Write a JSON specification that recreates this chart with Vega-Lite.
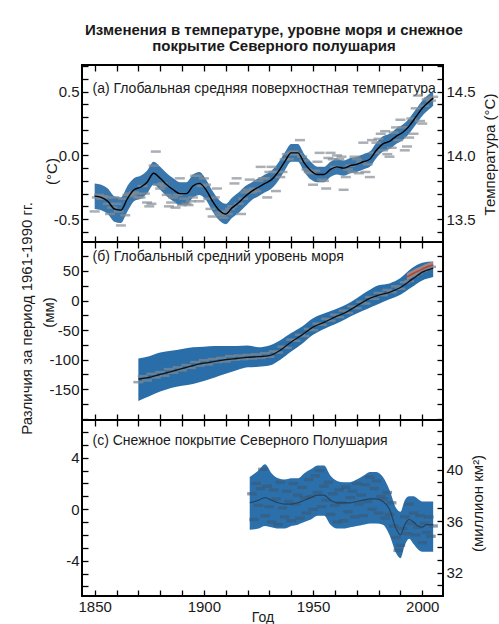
{
  "$schema": "https://vega.github.io/schema/vega-lite/v6.json",
  "background": "white",
  "padding": {"left": 17, "top": 22, "right": 2, "bottom": 2},
  "title": {
    "text": ["Изменения в температуре, уровне моря и снежное", "покрытие Северного полушария"],
    "fontSize": 15, "fontWeight": "bold", "lineHeight": 16.5, "anchor": "middle", "offset": 4, "dx": 16, "color": "#1a1a1a"
  },
  "datasets": {
    "temp_smooth": [
      {"year":1850,"m":-0.32,"lo":-0.42,"hi":-0.22},{"year":1853,"m":-0.33,"lo":-0.43,"hi":-0.23},{"year":1856,"m":-0.36,"lo":-0.46,"hi":-0.26},{"year":1859,"m":-0.42,"lo":-0.52,"hi":-0.32},{"year":1862,"m":-0.43,"lo":-0.53,"hi":-0.33},{"year":1865,"m":-0.34,"lo":-0.44,"hi":-0.24},{"year":1868,"m":-0.27,"lo":-0.36,"hi":-0.18},{"year":1871,"m":-0.25,"lo":-0.34,"hi":-0.16},{"year":1874,"m":-0.21,"lo":-0.30,"hi":-0.12},{"year":1877,"m":-0.14,"lo":-0.23,"hi":-0.05},{"year":1880,"m":-0.18,"lo":-0.27,"hi":-0.09},{"year":1883,"m":-0.23,"lo":-0.32,"hi":-0.14},{"year":1886,"m":-0.27,"lo":-0.36,"hi":-0.18},{"year":1889,"m":-0.30,"lo":-0.39,"hi":-0.21},{"year":1892,"m":-0.30,"lo":-0.39,"hi":-0.21},{"year":1895,"m":-0.24,"lo":-0.33,"hi":-0.15},{"year":1898,"m":-0.22,"lo":-0.31,"hi":-0.13},{"year":1901,"m":-0.27,"lo":-0.35,"hi":-0.19},{"year":1904,"m":-0.36,"lo":-0.44,"hi":-0.28},{"year":1907,"m":-0.43,"lo":-0.51,"hi":-0.35},{"year":1910,"m":-0.46,"lo":-0.54,"hi":-0.38},{"year":1913,"m":-0.41,"lo":-0.49,"hi":-0.33},{"year":1916,"m":-0.37,"lo":-0.45,"hi":-0.29},{"year":1919,"m":-0.32,"lo":-0.40,"hi":-0.24},{"year":1922,"m":-0.28,"lo":-0.35,"hi":-0.21},{"year":1925,"m":-0.25,"lo":-0.32,"hi":-0.18},{"year":1928,"m":-0.22,"lo":-0.29,"hi":-0.15},{"year":1931,"m":-0.19,"lo":-0.26,"hi":-0.12},{"year":1934,"m":-0.13,"lo":-0.20,"hi":-0.06},{"year":1937,"m":-0.05,"lo":-0.12,"hi":0.02},{"year":1940,"m":0.02,"lo":-0.05,"hi":0.09},{"year":1943,"m":0.02,"lo":-0.05,"hi":0.09},{"year":1946,"m":-0.06,"lo":-0.13,"hi":0.01},{"year":1949,"m":-0.12,"lo":-0.19,"hi":-0.05},{"year":1952,"m":-0.15,"lo":-0.21,"hi":-0.09},{"year":1955,"m":-0.15,"lo":-0.21,"hi":-0.09},{"year":1958,"m":-0.11,"lo":-0.17,"hi":-0.05},{"year":1961,"m":-0.09,"lo":-0.15,"hi":-0.03},{"year":1964,"m":-0.10,"lo":-0.16,"hi":-0.04},{"year":1967,"m":-0.08,"lo":-0.14,"hi":-0.02},{"year":1970,"m":-0.07,"lo":-0.13,"hi":-0.01},{"year":1973,"m":-0.05,"lo":-0.11,"hi":0.01},{"year":1976,"m":-0.03,"lo":-0.09,"hi":0.03},{"year":1979,"m":0.04,"lo":-0.02,"hi":0.10},{"year":1982,"m":0.09,"lo":0.03,"hi":0.15},{"year":1985,"m":0.11,"lo":0.05,"hi":0.17},{"year":1988,"m":0.15,"lo":0.09,"hi":0.21},{"year":1991,"m":0.18,"lo":0.12,"hi":0.24},{"year":1994,"m":0.23,"lo":0.17,"hi":0.29},{"year":1997,"m":0.30,"lo":0.24,"hi":0.36},{"year":2000,"m":0.37,"lo":0.31,"hi":0.43},{"year":2003,"m":0.42,"lo":0.36,"hi":0.48},{"year":2005,"m":0.45,"lo":0.39,"hi":0.51}
    ],
    "temp_annual": [
      {"year":1850,"t":-0.44},{"year":1851,"t":-0.33},{"year":1852,"t":-0.31},{"year":1853,"t":-0.34},{"year":1854,"t":-0.32},{"year":1855,"t":-0.33},{"year":1856,"t":-0.38},{"year":1857,"t":-0.46},{"year":1858,"t":-0.41},{"year":1859,"t":-0.33},
      {"year":1860,"t":-0.38},{"year":1861,"t":-0.44},{"year":1862,"t":-0.55},{"year":1863,"t":-0.34},{"year":1864,"t":-0.47},{"year":1865,"t":-0.31},{"year":1866,"t":-0.30},{"year":1867,"t":-0.32},{"year":1868,"t":-0.29},{"year":1869,"t":-0.30},
      {"year":1870,"t":-0.33},{"year":1871,"t":-0.33},{"year":1872,"t":-0.24},{"year":1873,"t":-0.30},{"year":1874,"t":-0.37},{"year":1875,"t":-0.40},{"year":1876,"t":-0.38},{"year":1877,"t":-0.08},{"year":1878,"t":0.03},{"year":1879,"t":-0.23},
      {"year":1880,"t":-0.26},{"year":1881,"t":-0.22},{"year":1882,"t":-0.24},{"year":1883,"t":-0.31},{"year":1884,"t":-0.40},{"year":1885,"t":-0.37},{"year":1886,"t":-0.33},{"year":1887,"t":-0.41},{"year":1888,"t":-0.31},{"year":1889,"t":-0.18},
      {"year":1890,"t":-0.39},{"year":1891,"t":-0.34},{"year":1892,"t":-0.38},{"year":1893,"t":-0.39},{"year":1894,"t":-0.36},{"year":1895,"t":-0.33},{"year":1896,"t":-0.16},{"year":1897,"t":-0.16},{"year":1898,"t":-0.36},{"year":1899,"t":-0.24},
      {"year":1900,"t":-0.18},{"year":1901,"t":-0.23},{"year":1902,"t":-0.34},{"year":1903,"t":-0.42},{"year":1904,"t":-0.48},{"year":1905,"t":-0.33},{"year":1906,"t":-0.26},{"year":1907,"t":-0.45},{"year":1908,"t":-0.47},{"year":1909,"t":-0.49},
      {"year":1910,"t":-0.44},{"year":1911,"t":-0.46},{"year":1912,"t":-0.42},{"year":1913,"t":-0.40},{"year":1914,"t":-0.22},{"year":1915,"t":-0.18},{"year":1916,"t":-0.38},{"year":1917,"t":-0.46},{"year":1918,"t":-0.34},{"year":1919,"t":-0.29},
      {"year":1920,"t":-0.27},{"year":1921,"t":-0.19},{"year":1922,"t":-0.29},{"year":1923,"t":-0.26},{"year":1924,"t":-0.28},{"year":1925,"t":-0.20},{"year":1926,"t":-0.09},{"year":1927,"t":-0.18},{"year":1928,"t":-0.18},{"year":1929,"t":-0.33},
      {"year":1930,"t":-0.13},{"year":1931,"t":-0.09},{"year":1932,"t":-0.13},{"year":1933,"t":-0.28},{"year":1934,"t":-0.13},{"year":1935,"t":-0.17},{"year":1936,"t":-0.13},{"year":1937,"t":-0.03},{"year":1938,"t":0.01},{"year":1939,"t":-0.03},
      {"year":1940,"t":0.02},{"year":1941,"t":0.03},{"year":1942,"t":0.01},{"year":1943,"t":0.01},{"year":1944,"t":0.12},{"year":1945,"t":-0.01},{"year":1946,"t":-0.04},{"year":1947,"t":-0.11},{"year":1948,"t":-0.13},{"year":1949,"t":-0.14},
      {"year":1950,"t":-0.23},{"year":1951,"t":-0.12},{"year":1952,"t":-0.05},{"year":1953,"t":0.02},{"year":1954,"t":-0.19},{"year":1955,"t":-0.20},{"year":1956,"t":-0.26},{"year":1957,"t":-0.02},{"year":1958,"t":0.02},{"year":1959,"t":-0.03},
      {"year":1960,"t":-0.09},{"year":1961,"t":0.00},{"year":1962,"t":-0.03},{"year":1963,"t":-0.01},{"year":1964,"t":-0.27},{"year":1965,"t":-0.17},{"year":1966,"t":-0.11},{"year":1967,"t":-0.08},{"year":1968,"t":-0.13},{"year":1969,"t":-0.01},
      {"year":1970,"t":-0.03},{"year":1971,"t":-0.14},{"year":1972,"t":-0.05},{"year":1973,"t":0.10},{"year":1974,"t":-0.13},{"year":1975,"t":-0.07},{"year":1976,"t":-0.17},{"year":1977,"t":0.12},{"year":1978,"t":0.02},{"year":1979,"t":0.10},
      {"year":1980,"t":0.13},{"year":1981,"t":0.17},{"year":1982,"t":0.04},{"year":1983,"t":0.19},{"year":1984,"t":0.01},{"year":1985,"t":-0.01},{"year":1986,"t":0.06},{"year":1987,"t":0.18},{"year":1988,"t":0.22},{"year":1989,"t":0.12},
      {"year":1990,"t":0.28},{"year":1991,"t":0.22},{"year":1992,"t":0.04},{"year":1993,"t":0.07},{"year":1994,"t":0.14},{"year":1995,"t":0.29},{"year":1996,"t":0.17},{"year":1997,"t":0.37},{"year":1998,"t":0.47},{"year":1999,"t":0.27},
      {"year":2000,"t":0.25},{"year":2001,"t":0.39},{"year":2002,"t":0.44},{"year":2003,"t":0.45},{"year":2004,"t":0.43},{"year":2005,"t":0.46}
    ],
    "sea_smooth": [
      {"year":1870,"m":-133,"lo":-170,"hi":-98},{"year":1875,"m":-130,"lo":-162,"hi":-94},{"year":1880,"m":-125,"lo":-154,"hi":-88},{"year":1885,"m":-120,"lo":-148,"hi":-85},{"year":1890,"m":-115,"lo":-144,"hi":-82},{"year":1895,"m":-110,"lo":-141,"hi":-79},{"year":1900,"m":-106,"lo":-136,"hi":-78},{"year":1905,"m":-103,"lo":-130,"hi":-77},{"year":1910,"m":-100,"lo":-124,"hi":-77},{"year":1915,"m":-98,"lo":-118,"hi":-77},{"year":1920,"m":-96,"lo":-113,"hi":-76},{"year":1925,"m":-95,"lo":-112,"hi":-79},{"year":1930,"m":-93,"lo":-110,"hi":-76},{"year":1935,"m":-84,"lo":-100,"hi":-67},{"year":1940,"m":-70,"lo":-86,"hi":-55},{"year":1945,"m":-58,"lo":-73,"hi":-44},{"year":1950,"m":-45,"lo":-58,"hi":-30},{"year":1955,"m":-37,"lo":-48,"hi":-22},{"year":1960,"m":-28,"lo":-40,"hi":-15},{"year":1965,"m":-20,"lo":-31,"hi":-7},{"year":1970,"m":-9,"lo":-22,"hi":4},{"year":1975,"m":2,"lo":-14,"hi":16},{"year":1980,"m":9,"lo":-6,"hi":26},{"year":1985,"m":14,"lo":2,"hi":29},{"year":1990,"m":22,"lo":10,"hi":38},{"year":1995,"m":35,"lo":22,"hi":54},{"year":2000,"m":48,"lo":34,"hi":64},{"year":2005,"m":55,"lo":40,"hi":66}
    ],
    "sea_points": [
      {"year":1870,"v":-138},{"year":1872,"v":-128},{"year":1874,"v":-135},{"year":1876,"v":-124},{"year":1878,"v":-130},{"year":1880,"v":-121},{"year":1882,"v":-127},{"year":1884,"v":-116},{"year":1886,"v":-122},{"year":1888,"v":-113},{"year":1890,"v":-118},{"year":1892,"v":-109},{"year":1894,"v":-114},{"year":1896,"v":-104},{"year":1898,"v":-110},{"year":1900,"v":-101},{"year":1902,"v":-108},{"year":1904,"v":-99},{"year":1906,"v":-104},{"year":1908,"v":-97},{"year":1910,"v":-103},{"year":1912,"v":-94},{"year":1914,"v":-100},{"year":1916,"v":-93},{"year":1918,"v":-99},{"year":1920,"v":-92},{"year":1922,"v":-98},{"year":1924,"v":-91},{"year":1926,"v":-97},{"year":1928,"v":-89},{"year":1930,"v":-95},{"year":1932,"v":-86},{"year":1934,"v":-88},{"year":1936,"v":-78},{"year":1938,"v":-80},{"year":1940,"v":-66},{"year":1942,"v":-68},{"year":1944,"v":-58},{"year":1946,"v":-60},{"year":1948,"v":-48},{"year":1950,"v":-50},{"year":1952,"v":-39},{"year":1954,"v":-41},{"year":1956,"v":-31},{"year":1958,"v":-34},{"year":1960,"v":-24},{"year":1962,"v":-28},{"year":1964,"v":-17},{"year":1966,"v":-21},{"year":1968,"v":-10},{"year":1970,"v":-13},{"year":1972,"v":-2},{"year":1974,"v":-5},{"year":1976,"v":6},{"year":1978,"v":3},{"year":1980,"v":13},{"year":1982,"v":9},{"year":1984,"v":18},{"year":1986,"v":14},{"year":1988,"v":24},{"year":1990,"v":20},{"year":1992,"v":31},{"year":1994,"v":33},{"year":1996,"v":42},{"year":1998,"v":46},{"year":2000,"v":50},{"year":2002,"v":54},{"year":2004,"v":57}
    ],
    "sea_sat": [
      {"year":1993,"m":40,"lo":34,"hi":46},{"year":1995,"m":44,"lo":38,"hi":50},{"year":1997,"m":48,"lo":42,"hi":54},{"year":1999,"m":51,"lo":45,"hi":57},{"year":2001,"m":55,"lo":49,"hi":61},{"year":2003,"m":58,"lo":52,"hi":64},{"year":2005,"m":60,"lo":54,"hi":66}
    ],
    "snow_smooth": [
      {"year":1921,"m":0.5,"lo":-1.6,"hi":2.5},{"year":1925,"m":0.7,"lo":-1.5,"hi":3.0},{"year":1928,"m":0.9,"lo":-1.3,"hi":3.5},{"year":1931,"m":0.7,"lo":-1.4,"hi":2.8},{"year":1934,"m":0.5,"lo":-1.5,"hi":2.4},{"year":1937,"m":0.4,"lo":-1.5,"hi":2.3},{"year":1940,"m":0.4,"lo":-1.3,"hi":2.4},{"year":1943,"m":0.5,"lo":-1.2,"hi":2.4},{"year":1946,"m":0.7,"lo":-1.0,"hi":2.8},{"year":1949,"m":0.9,"lo":-0.8,"hi":3.1},{"year":1952,"m":1.1,"lo":-0.5,"hi":3.4},{"year":1955,"m":1.1,"lo":-0.5,"hi":3.4},{"year":1958,"m":0.7,"lo":-1.2,"hi":2.6},{"year":1961,"m":0.5,"lo":-1.5,"hi":2.2},{"year":1964,"m":0.5,"lo":-1.5,"hi":2.1},{"year":1967,"m":0.5,"lo":-1.4,"hi":2.1},{"year":1970,"m":0.6,"lo":-1.3,"hi":2.3},{"year":1973,"m":0.7,"lo":-1.2,"hi":2.6},{"year":1976,"m":0.8,"lo":-1.1,"hi":2.9},{"year":1979,"m":0.8,"lo":-1.1,"hi":2.9},{"year":1982,"m":0.6,"lo":-1.2,"hi":2.5},{"year":1985,"m":0.0,"lo":-2.0,"hi":1.5},{"year":1988,"m":-1.5,"lo":-3.4,"hi":0.1},{"year":1990,"m":-2.0,"lo":-3.8,"hi":-0.2},{"year":1992,"m":-1.2,"lo":-2.8,"hi":0.7},{"year":1994,"m":-0.8,"lo":-2.3,"hi":1.0},{"year":1996,"m":-1.0,"lo":-2.7,"hi":1.0},{"year":1998,"m":-1.3,"lo":-3.1,"hi":0.8},{"year":2000,"m":-1.4,"lo":-3.3,"hi":0.6},{"year":2002,"m":-1.2,"lo":-3.3,"hi":0.6},{"year":2005,"m":-1.2,"lo":-3.3,"hi":0.6}
    ],
    "snow_points": [
      {"year":1922,"v":1.2},{"year":1923,"v":-0.8},{"year":1924,"v":2.0},{"year":1925,"v":0.3},{"year":1926,"v":1.6},{"year":1927,"v":3.1},{"year":1928,"v":-0.5},{"year":1929,"v":1.8},{"year":1930,"v":0.2},{"year":1931,"v":-1.0},{"year":1932,"v":1.5},{"year":1933,"v":0.8},{"year":1934,"v":-1.2},{"year":1935,"v":2.1},{"year":1936,"v":0.1},{"year":1937,"v":-0.6},{"year":1938,"v":1.4},{"year":1939,"v":0.6},{"year":1940,"v":-0.9},{"year":1941,"v":2.0},{"year":1942,"v":0.4},{"year":1943,"v":1.1},{"year":1944,"v":-0.7},{"year":1945,"v":1.7},{"year":1946,"v":0.9},{"year":1947,"v":-0.3},{"year":1948,"v":2.3},{"year":1949,"v":1.0},{"year":1950,"v":0.0},{"year":1951,"v":2.6},{"year":1952,"v":1.3},{"year":1953,"v":3.0},{"year":1954,"v":0.2},{"year":1955,"v":1.8},{"year":1956,"v":0.7},{"year":1957,"v":2.1},{"year":1958,"v":-0.4},{"year":1959,"v":1.2},{"year":1960,"v":0.3},{"year":1961,"v":-1.0},{"year":1962,"v":1.5},{"year":1963,"v":0.5},{"year":1964,"v":-0.9},{"year":1965,"v":1.7},{"year":1966,"v":-0.2},{"year":1967,"v":0.9},{"year":1968,"v":1.4},{"year":1969,"v":-0.6},{"year":1970,"v":2.0},{"year":1971,"v":0.4},{"year":1972,"v":1.1},{"year":1973,"v":-0.5},{"year":1974,"v":1.9},{"year":1975,"v":0.6},{"year":1976,"v":2.5},{"year":1977,"v":0.0},{"year":1978,"v":1.6},{"year":1979,"v":2.2},{"year":1980,"v":-0.3},{"year":1981,"v":1.0},{"year":1982,"v":0.8},{"year":1983,"v":-0.7},{"year":1984,"v":1.3},{"year":1985,"v":-0.4},{"year":1986,"v":0.5},{"year":1987,"v":-1.3},{"year":1988,"v":-2.2},{"year":1989,"v":-3.2},{"year":1990,"v":-2.8},{"year":1991,"v":-1.5},{"year":1992,"v":-0.6},{"year":1993,"v":-1.9},{"year":1994,"v":0.4},{"year":1995,"v":-1.1},{"year":1996,"v":-0.3},{"year":1997,"v":-2.0},{"year":1998,"v":-1.4},{"year":1999,"v":-0.5},{"year":2000,"v":-2.6},{"year":2001,"v":-1.1},{"year":2002,"v":-1.8},{"year":2003,"v":-0.6},{"year":2004,"v":-2.1},{"year":2005,"v":-1.3}
    ]
  },
  "spacing": 0,
  "bounds": "flush",
  "vconcat": [
    {
      "width": 361, "height": 177,
      "layer": [
        {
          "data": {"name": "temp_smooth"},
          "mark": {"type": "area", "color": "#2267a2", "opacity": 0.9, "interpolate": "monotone"},
          "encoding": {
            "x": {"field": "year", "type": "quantitative", "scale": {"domain": [1844.2, 2009.5], "nice": false, "zero": false},
                  "axis": {"orient": "bottom", "values": [1850,1860,1870,1880,1890,1900,1910,1920,1930,1940,1950,1960,1970,1980,1990,2000], "labels": false, "title": null}},
            "y": {"field": "lo", "type": "quantitative", "scale": {"domain": [-0.68, 0.71], "nice": false, "zero": false},
                  "axis": {"orient": "left", "values": [-0.6,-0.5,-0.4,-0.3,-0.2,-0.1,0,0.1,0.2,0.3,0.4,0.5,0.6,0.7],
                           "labelExpr": "datum.value == 0.5 ? '0.5' : datum.value == 0 ? '0.0' : datum.value == -0.5 ? '-0.5' : ''",
                           "title": "(°C)", "titleAngle": 270, "titleAlign": "center", "titleBaseline": "alphabetic", "titleX": -26, "titleY": 106}},
            "y2": {"field": "hi"}
          }
        },
        {
          "data": {"name": "temp_annual"},
          "mark": {"type": "point", "shape": "M-1,-0.25L1,-0.25L1,0.25L-1,0.25Z", "filled": true, "size": 100, "color": "#858d96", "opacity": 0.7},
          "encoding": {
            "x": {"field": "year", "type": "quantitative", "scale": {"domain": [1844.2, 2009.5], "nice": false, "zero": false}, "axis": null},
            "y": {"field": "t", "type": "quantitative", "scale": {"domain": [-0.68, 0.71], "nice": false, "zero": false}, "axis": null}
          }
        },
        {
          "data": {"name": "temp_smooth"},
          "mark": {"type": "line", "color": "black", "strokeWidth": 1.4, "interpolate": "monotone"},
          "encoding": {
            "x": {"field": "year", "type": "quantitative", "scale": {"domain": [1844.2, 2009.5], "nice": false, "zero": false},
                  "axis": {"orient": "top", "values": [1850,1860,1870,1880,1890,1900,1910,1920,1930,1940,1950,1960,1970,1980,1990,2000], "labels": false,
                           "title": "(а) Глобальная средняя поверхностная температура", "titleX": 10, "titleY": 27, "titleAlign": "left", "titleBaseline": "alphabetic", "titleAngle": 0, "titleFontSize": 14}},
            "y": {"field": "m", "type": "quantitative", "scale": {"domain": [-0.68, 0.71], "nice": false, "zero": false},
                  "axis": {"orient": "right", "values": [-0.6,-0.5,-0.4,-0.3,-0.2,-0.1,0,0.1,0.2,0.3,0.4,0.5,0.6,0.7],
                           "labelExpr": "datum.value == 0.5 ? '14.5' : datum.value == 0 ? '14.0' : datum.value == -0.5 ? '13.5' : ''",
                           "title": "Температура (°C)", "titleAngle": 270, "titleAlign": "center", "titleBaseline": "alphabetic", "titleX": 51, "titleY": 89}}
          }
        }
      ],
      "resolve": {"axis": {"x": "independent", "y": "independent"}}
    },
    {
      "width": 361, "height": 178,
      "layer": [
        {
          "data": {"name": "sea_smooth"},
          "mark": {"type": "area", "color": "#1d66a3", "opacity": 0.95, "interpolate": "monotone"},
          "encoding": {
            "x": {"field": "year", "type": "quantitative", "scale": {"domain": [1844.2, 2009.5], "nice": false, "zero": false},
                  "axis": {"orient": "bottom", "values": [1850,1860,1870,1880,1890,1900,1910,1920,1930,1940,1950,1960,1970,1980,1990,2000], "labels": false, "title": null}},
            "y": {"field": "lo", "type": "quantitative", "scale": {"domain": [-202, 99], "nice": false, "zero": false},
                  "axis": {"orient": "left", "values": [-200,-175,-150,-125,-100,-75,-50,-25,0,25,50,75],
                           "labelExpr": "datum.value == 50 ? '50' : datum.value == 0 ? '0' : datum.value == -50 ? '-50' : datum.value == -100 ? '-100' : datum.value == -150 ? '-150' : ''",
                           "title": "(мм)", "titleAngle": 270, "titleAlign": "center", "titleBaseline": "alphabetic", "titleX": -29, "titleY": 70}},
            "y2": {"field": "hi"}
          }
        },
        {
          "data": {"name": "sea_sat"},
          "mark": {"type": "area", "color": "#c98c7a", "opacity": 0.75},
          "encoding": {
            "x": {"field": "year", "type": "quantitative", "scale": {"domain": [1844.2, 2009.5], "nice": false, "zero": false}, "axis": null},
            "y": {"field": "lo", "type": "quantitative", "scale": {"domain": [-202, 99], "nice": false, "zero": false}, "axis": null},
            "y2": {"field": "hi"}
          }
        },
        {
          "data": {"name": "sea_points"},
          "mark": {"type": "point", "shape": "M-1,-0.25L1,-0.25L1,0.25L-1,0.25Z", "filled": true, "size": 100, "color": "#7d8893", "opacity": 0.75},
          "encoding": {
            "x": {"field": "year", "type": "quantitative", "scale": {"domain": [1844.2, 2009.5], "nice": false, "zero": false}, "axis": null},
            "y": {"field": "v", "type": "quantitative", "scale": {"domain": [-202, 99], "nice": false, "zero": false},
                  "axis": {"orient": "left", "labels": false, "ticks": false, "domain": false, "title": "Различия за период 1961-1990 гг.", "titleAngle": 270, "titleAlign": "center", "titleBaseline": "alphabetic", "titleX": -51, "titleY": 76}}
          }
        },
        {
          "data": {"name": "sea_smooth"},
          "mark": {"type": "line", "color": "#111111", "strokeWidth": 1.3, "interpolate": "monotone"},
          "encoding": {
            "x": {"field": "year", "type": "quantitative", "scale": {"domain": [1844.2, 2009.5], "nice": false, "zero": false},
                  "axis": {"orient": "top", "values": [1850,1860,1870,1880,1890,1900,1910,1920,1930,1940,1950,1960,1970,1980,1990,2000], "labels": false,
                           "title": "(б) Глобальный средний уровень моря", "titleX": 10, "titleY": 18, "titleAlign": "left", "titleBaseline": "alphabetic", "titleAngle": 0, "titleFontSize": 14}},
            "y": {"field": "m", "type": "quantitative", "scale": {"domain": [-202, 99], "nice": false, "zero": false},
                  "axis": {"orient": "right", "values": [-200,-175,-150,-125,-100,-75,-50,-25,0,25,50,75], "labels": false, "title": null}}
          }
        },
        {
          "data": {"name": "sea_sat"},
          "mark": {"type": "line", "color": "#b8452e", "strokeWidth": 1.5},
          "encoding": {
            "x": {"field": "year", "type": "quantitative", "scale": {"domain": [1844.2, 2009.5], "nice": false, "zero": false}, "axis": null},
            "y": {"field": "m", "type": "quantitative", "scale": {"domain": [-202, 99], "nice": false, "zero": false}, "axis": null}
          }
        }
      ],
      "resolve": {"axis": {"x": "independent", "y": "independent"}}
    },
    {
      "width": 361, "height": 176,
      "layer": [
        {
          "data": {"name": "snow_smooth"},
          "mark": {"type": "area", "color": "#2068a6", "opacity": 0.95, "interpolate": "monotone"},
          "encoding": {
            "x": {"field": "year", "type": "quantitative", "scale": {"domain": [1844.2, 2009.5], "nice": false, "zero": false},
                  "axis": {"orient": "bottom", "values": [1850,1860,1870,1880,1890,1900,1910,1920,1930,1940,1950,1960,1970,1980,1990,2000],
                           "labelExpr": "datum.value % 50 == 0 ? '' + datum.value : ''", "labelPadding": 9,
                           "title": "Год", "titlePadding": -4, "titleFontSize": 14}},
            "y": {"field": "lo", "type": "quantitative", "scale": {"domain": [-6.74, 6.93], "nice": false, "zero": false},
                  "axis": {"orient": "left", "values": [-6,-5,-4,-3,-2,-1,0,1,2,3,4,5,6],
                           "labelExpr": "datum.value == 4 ? '4' : datum.value == 0 ? '0' : datum.value == -4 ? '-4' : ''", "title": null}},
            "y2": {"field": "hi"}
          }
        },
        {
          "data": {"name": "snow_points"},
          "mark": {"type": "point", "shape": "M-1,-0.35L1,-0.35L1,0.35L-1,0.35Z", "filled": true, "size": 90, "color": "#3a5875", "opacity": 0.6},
          "encoding": {
            "x": {"field": "year", "type": "quantitative", "scale": {"domain": [1844.2, 2009.5], "nice": false, "zero": false}, "axis": null},
            "y": {"field": "v", "type": "quantitative", "scale": {"domain": [-6.74, 6.93], "nice": false, "zero": false}, "axis": null}
          }
        },
        {
          "data": {"name": "snow_smooth"},
          "mark": {"type": "line", "color": "#22384d", "strokeWidth": 1.2, "opacity": 0.8, "interpolate": "monotone"},
          "encoding": {
            "x": {"field": "year", "type": "quantitative", "scale": {"domain": [1844.2, 2009.5], "nice": false, "zero": false},
                  "axis": {"orient": "top", "values": [1850,1860,1870,1880,1890,1900,1910,1920,1930,1940,1950,1960,1970,1980,1990,2000], "labels": false,
                           "title": "(с) Снежное покрытие Северного Полушария", "titleX": 10, "titleY": 24, "titleAlign": "left", "titleBaseline": "alphabetic", "titleAngle": 0, "titleFontSize": 14}},
            "y": {"field": "m", "type": "quantitative", "scale": {"domain": [-6.74, 6.93], "nice": false, "zero": false},
                  "axis": {"orient": "right", "values": [-5.92,-4.92,-3.92,-2.92,-1.92,-0.92,0.08,1.08,2.08,3.08,4.08,5.08,6.08],
                           "labelExpr": "datum.value == -4.92 ? '32' : datum.value == -0.92 ? '36' : datum.value == 3.08 ? '40' : ''",
                           "title": "(миллион км²)", "titleAngle": 270, "titleAlign": "center", "titleBaseline": "alphabetic", "titleX": 39, "titleY": 83}}
          }
        }
      ],
      "resolve": {"axis": {"x": "independent", "y": "independent"}}
    }
  ],
  "config": {
    "font": "Liberation Sans",
    "view": {"stroke": "black", "strokeWidth": 2},
    "axis": {
      "domain": false, "grid": false, "tickColor": "black", "tickWidth": 1.3, "tickSize": -6,
      "labelFontSize": 15, "labelColor": "#1a1a1a", "labelPadding": 9, "labelOverlap": false, "labelFlush": false,
      "titleFontSize": 15, "titleFontWeight": "normal", "titleColor": "#1a1a1a"
    }
  }
}
